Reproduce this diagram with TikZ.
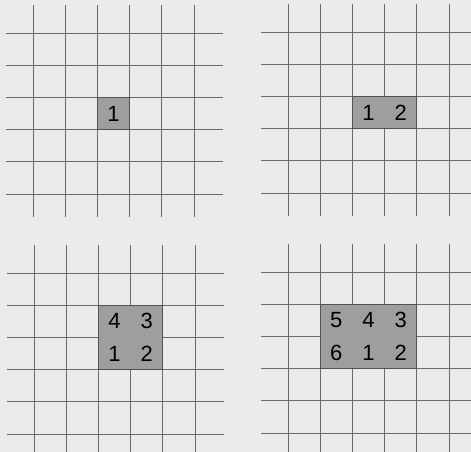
\documentclass[tikz,border=0pt]{standalone}
\usepackage{fontspec}
\setmainfont{Liberation Sans}
\usetikzlibrary{positioning}
\definecolor{paper}{gray}{0.92}
\definecolor{shade}{gray}{0.62}
\definecolor{rule}{gray}{0.42}
\definecolor{edge}{gray}{0.32}
\tikzstyle{gridline} = [
    draw=rule,
    line width=0.9pt
]
\tikzstyle{block} = [
    fill=shade,
    draw=edge,
    line width=1.1pt
]
\tikzstyle{num} = [
    inner sep=0pt,
    font=\fontsize{22}{22}\selectfont
]

\begin{document}
\begin{tikzpicture}[x=1pt, y=-1pt, node distance=32.2pt, on grid]

\useasboundingbox (0,0) rectangle (471,452);
\fill[paper] (0,0) rectangle (471,452);
\clip (0,0) rectangle (471,452);

% the four grids
\foreach \px/\py in {33/33, 288/32, 34/273, 288/272} {
    \begin{scope}[shift={(\px,\py)}]
        \foreach \k in {0,...,5} {
            \draw [gridline] (-27,\k*32.2) -- (190,\k*32.2);
            \draw [gridline] (\k*32.2,-28) -- (\k*32.2,184);
        }
    \end{scope}
}

% step 1
\draw [block] (97.4,97.4) rectangle (129.6,129.6);
\node (aone) [num] at (113.5,113.5) {1};

% step 2
\draw [block] (352.4,96.4) rectangle (416.8,128.6);
\node (bone) [num] at (368.5,112.5) {1};
\node (btwo) [num, right=of bone] {2};

% step 4
\draw [block] (98.4,305.2) rectangle (162.8,369.6);
\node (cone) [num] at (114.5,353.5) {1};
\node (ctwo) [num, right=of cone] {2};
\node (cthree) [num, above=of ctwo] {3};
\node (cfour) [num, above=of cone] {4};

% step 6
\draw [block] (320.2,304.2) rectangle (416.8,368.6);
\node (done) [num] at (368.5,352.5) {1};
\node (dtwo) [num, right=of done] {2};
\node (dthree) [num, above=of dtwo] {3};
\node (dfour) [num, above=of done] {4};
\node (dfive) [num, left=of dfour] {5};
\node (dsix) [num, left=of done] {6};

\end{tikzpicture}
\end{document}
